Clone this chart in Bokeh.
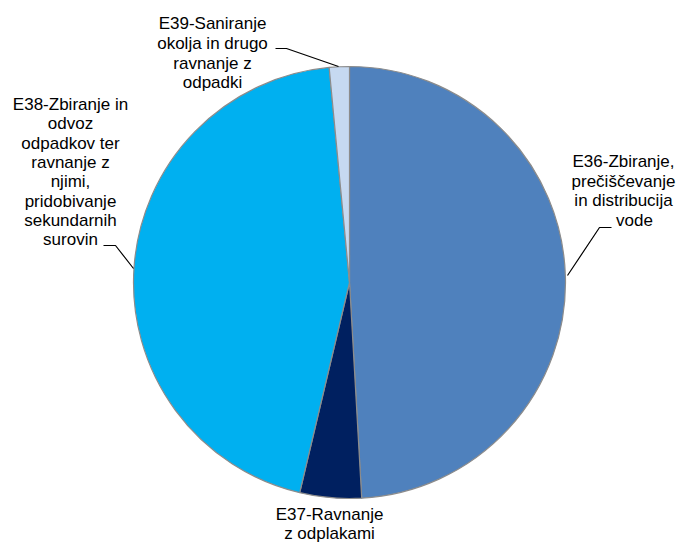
from bokeh.plotting import figure
from bokeh.models import Range1d, ColumnDataSource
from bokeh.embed import file_html
from bokeh.resources import INLINE
from bokeh.core.properties import value
import numpy as np

# ---- data ----
categories = ["E36", "E37", "E38", "E39"]
shares = [49.1, 4.6, 44.8, 1.5]
colors = ["#4F81BD", "#002060", "#00B0F0", "#C6D9F1"]
label_lines = [
    ["E36-Zbiranje,", "prečiščevanje", "in distribucija", "vode"],
    ["E37-Ravnanje", "z odplakami"],
    ["E38-Zbiranje in", "odvoz", "odpadkov ter", "ravnanje z", "njimi,", "pridobivanje", "sekundarnih", "surovin"],
    ["E39-Saniranje", "okolja in drugo", "ravnanje z", "odpadki"],
]

W, H = 693, 544
p = figure(width=W, height=H, output_backend="svg", toolbar_location=None,
           x_range=Range1d(0, W), y_range=Range1d(0, H),
           min_border=0)
p.axis.visible = False
p.grid.visible = False
p.outline_line_color = None
p.background_fill_color = "white"

def Y(ys):
    return H - ys

cx, cy, r = 349, Y(282), 216
vals = np.array(shares, dtype=float)
frac = vals / vals.sum()
cum = np.concatenate([[0], np.cumsum(frac)])
start = np.pi / 2 - cum[:-1] * 2 * np.pi
end = np.pi / 2 - cum[1:] * 2 * np.pi
src = ColumnDataSource(dict(x=[cx] * len(vals), y=[cy] * len(vals), start=start, end=end, color=colors))
p.wedge(x="x", y="y", radius=r, start_angle="start", end_angle="end", direction="clock",
        fill_color="color", line_color="#8C8C8C", line_width=1.2, source=src)

# label layout: (center x, first-line y in screen px, line spacing)
layout = [(623, 161, 19.5), (329, 514, 19.0), (70, 104, 19.3), (212, 23, 19.8)]
font = value("Liberation Sans")
for (lx, ly, dy), lines, cat in zip(layout, label_lines, categories):
    xs, ys = [], []
    for i, t in enumerate(lines):
        x = lx
        if cat == "E36" and i == len(lines) - 1:
            x = 634
        xs.append(x)
        ys.append(Y(ly + i * dy))
    p.text(x=xs, y=ys, text=lines, text_font=font, text_font_size="17px",
           text_align="center", text_baseline="middle", text_color="#000000")

# leader lines (screen px)
leaders = [
    [(567, 275), (599, 227), (611, 227)],
    [(103, 245), (115, 245), (133, 268)],
    [(275, 48), (286, 48), (338, 66)],
]
for pts in leaders:
    p.line([a for a, b in pts], [Y(b) for a, b in pts], line_color="black", line_width=1.2)

open("out.html", "w").write(file_html(p, INLINE))
